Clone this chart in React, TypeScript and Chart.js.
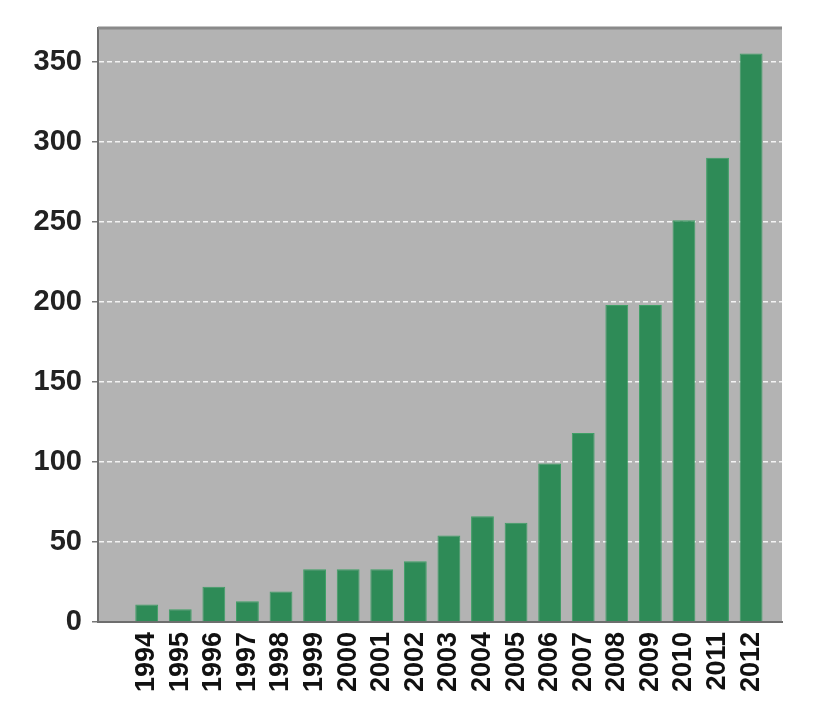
import React, { useEffect, useRef } from "react";
import { Chart, registerables } from "chart.js";

Chart.register(...registerables);

const years: number[] = [1994, 1995, 1996, 1997, 1998, 1999, 2000, 2001, 2002, 2003, 2004, 2005, 2006, 2007, 2008, 2009, 2010, 2011, 2012];
const counts: number[] = [11, 8, 22, 13, 19, 33, 33, 33, 38, 54, 66, 62, 99, 118, 198, 198, 251, 290, 355];
const yTicks: number[] = [0, 50, 100, 150, 200, 250, 300, 350];

const plotBg = {
  id: "plotBg",
  beforeDraw(chart: any) {
    const { ctx, chartArea } = chart;
    ctx.save();
    ctx.fillStyle = "#b3b3b3";
    ctx.fillRect(chartArea.left, chartArea.top, chartArea.right - chartArea.left, chartArea.bottom - chartArea.top);
    ctx.restore();
  },
  afterDraw(chart: any) {
    const { ctx, chartArea } = chart;
    ctx.save();
    ctx.strokeStyle = "#8a8a8a";
    ctx.lineWidth = 3;
    ctx.beginPath();
    ctx.moveTo(chartArea.left, chartArea.top);
    ctx.lineTo(chartArea.right, chartArea.top);
    ctx.stroke();
    ctx.restore();
  },
};

export default function App() {
  const ref = useRef<HTMLCanvasElement | null>(null);
  useEffect(() => {
    if (!ref.current) return;
    const chart = new Chart(ref.current, {
      type: "bar",
      data: {
        datasets: [
          {
            data: years.map((y, i) => ({ x: y, y: counts[i] })),
            backgroundColor: "#2e8b57",
            borderColor: "#3f9f66",
            borderWidth: 1,
            barPercentage: 0.68,
            categoryPercentage: 1,
          },
        ],
      },
      options: {
        animation: false,
        responsive: false,
        layout: { padding: { top: 28, right: 48, left: 0, bottom: 0 } },
        plugins: { legend: { display: false }, tooltip: { enabled: false } },
        scales: {
          x: {
            type: "linear",
            min: 1992.55,
            max: 2012.92,
            offset: false,
            afterFit: (s: any) => { s.height = 91; },
            afterBuildTicks: (s: any) => {
              s.ticks = years.map((v) => ({ value: v }));
            },
            grid: { display: false, drawTicks: false },
            border: { display: true, color: "#6e6e6e", width: 2 },
            ticks: {
              autoSkip: false,
              minRotation: 90,
              maxRotation: 90,
              padding: 10,
              color: "#111",
              font: { family: "'Liberation Sans', Arial, sans-serif", size: 27, weight: "bold" },
              callback: (v: any) => String(v),
            },
          },
          y: {
            min: 0,
            max: 371,
            afterFit: (s: any) => { s.width = 98; },
            afterBuildTicks: (s: any) => {
              s.ticks = yTicks.map((v) => ({ value: v }));
            },
            grid: {
              color: (c: any) => (c.tick && c.tick.value === 0 ? "rgba(0,0,0,0)" : "rgba(255,255,255,0.85)"),
              lineWidth: 1.5,
              drawTicks: true,
              tickLength: 6,
              tickColor: "#777",
              tickBorderDash: [],
            },
            border: { display: true, color: "#6e6e6e", width: 2, dash: [5, 3] },
            ticks: {
              padding: 10,
              color: "#222",
              font: { family: "'Liberation Sans', Arial, sans-serif", size: 29, weight: "bold" },
            },
          },
        },
      },
      plugins: [plotBg],
    });
    return () => chart.destroy();
  }, []);
  return (
    <div style={{ position: "fixed", left: 0, top: 0, width: 830, height: 713, background: "#fff" }}>
      <canvas ref={ref} width={830} height={713} style={{ width: 830, height: 713 }} />
    </div>
  );
}
